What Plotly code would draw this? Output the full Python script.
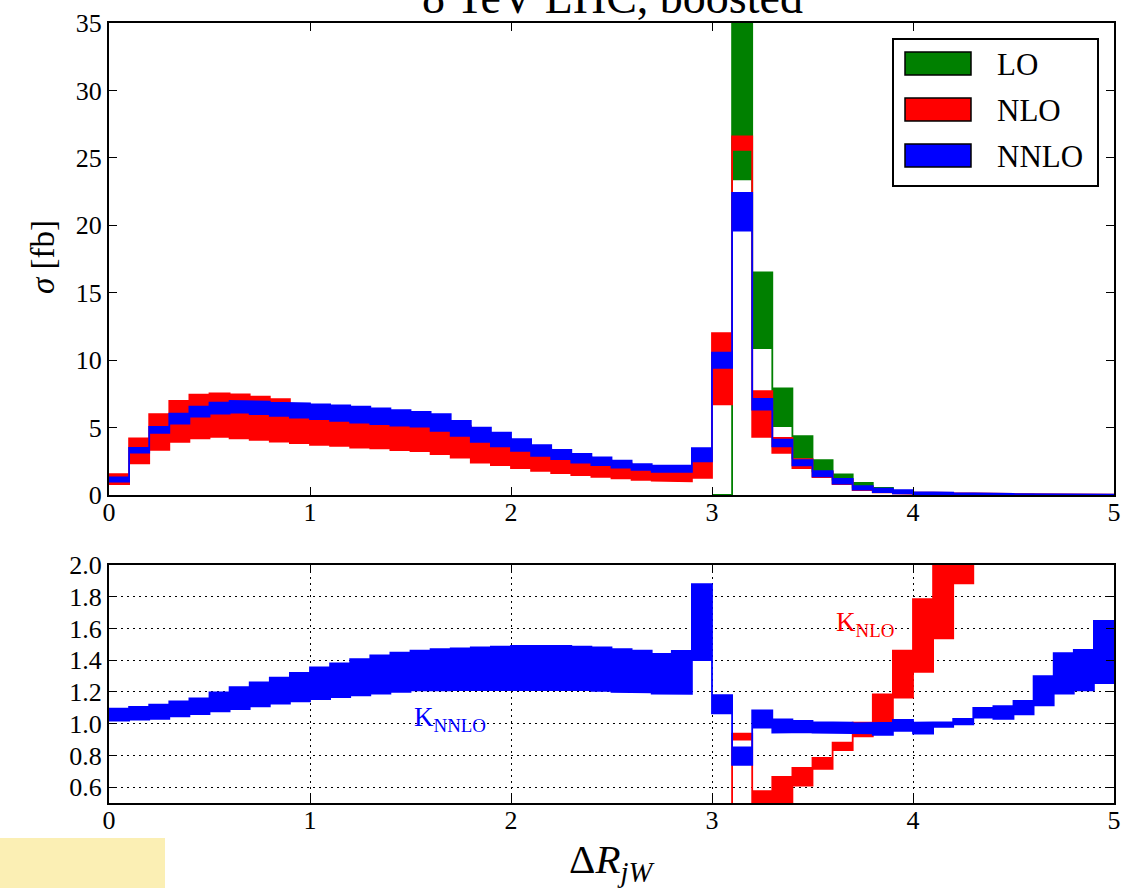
import plotly.graph_objects as go

# ---------------- data ----------------
bin_edges = [0.0, 0.1, 0.2, 0.3, 0.4, 0.5, 0.6, 0.7, 0.8, 0.9,
             1.0, 1.1, 1.2, 1.3, 1.4, 1.5, 1.6, 1.7, 1.8, 1.9,
             2.0, 2.1, 2.2, 2.3, 2.4, 2.5, 2.6, 2.7, 2.8, 2.9,
             3.0, 3.1, 3.2, 3.3, 3.4, 3.5, 3.6, 3.7, 3.8, 3.9,
             4.0, 4.1, 4.2, 4.3, 4.4, 4.5, 4.6, 4.7, 4.8, 4.9, 5.0]

# LO band (no LO contribution below Delta R = 3.1; None = not drawn)
lo_low = [None]*30 + [0, 23.4, 10.9, 5.1, 2.76, 1.76, 1.15, 0.55, 0.32, 0.16, 0.06,
                      0.04, 0.03, 0.02, 0.015, 0.01, 0.01, 0.008, 0.006, 0.005]
lo_high = [None]*30 + [0, 37.0, 16.5, 7.9, 4.36, 2.58, 1.52, 0.9, 0.53, 0.3, 0.14,
                       0.08, 0.06, 0.04, 0.03, 0.025, 0.02, 0.015, 0.012, 0.01]

# NLO band
nlo_low = [0.8, 2.34, 3.35, 3.94, 4.21, 4.31, 4.21, 4.09, 3.96, 3.84,
           3.72, 3.65, 3.52, 3.45, 3.33, 3.25, 3.03, 2.78, 2.41, 2.22,
           2.0, 1.8, 1.63, 1.48, 1.35, 1.23, 1.13, 1.06, 1.01, 1.28,
           6.72, 25.6, 4.31, 3.13, 2.0, 1.33, 0.8, 0.36, 0.2, 0.12,
           0.07, 0.05, 0.04, 0.03, 0.025, 0.02, 0.015, 0.012, 0.01, 0.008]
nlo_high = [1.55, 4.19, 5.99, 6.97, 7.44, 7.54, 7.46, 7.29, 7.1, 6.7,
            6.5, 6.35, 6.2, 6.05, 5.9, 5.75, 5.5, 5.1, 4.6, 4.2,
            3.8, 3.4, 3.05, 2.8, 2.55, 2.35, 2.15, 2.0, 2.0, 2.9,
            12.0, 26.6, 7.7, 4.24, 2.65, 1.7, 1.12, 0.6, 0.42, 0.3,
            0.2, 0.16, 0.13, 0.1, 0.08, 0.07, 0.06, 0.05, 0.04, 0.035]

# NNLO band
nnlo_low = [1.0, 3.15, 4.6, 5.3, 5.82, 6.04, 6.11, 5.99, 5.87, 5.74,
            5.62, 5.49, 5.37, 5.25, 5.15, 5.08, 4.75, 4.38, 3.94, 3.6,
            3.28, 2.91, 2.66, 2.41, 2.22, 2.04, 1.87, 1.72, 1.72, 2.49,
            9.43, 19.6, 6.34, 3.6, 2.19, 1.39, 0.85, 0.4, 0.22, 0.12,
            0.06, 0.05, 0.04, 0.035, 0.03, 0.025, 0.02, 0.015, 0.01, 0.01]
nnlo_high = [1.3, 3.5, 5.05, 6.04, 6.55, 6.85, 6.97, 6.92, 6.85, 6.8,
             6.72, 6.65, 6.55, 6.42, 6.3, 6.16, 5.99, 5.49, 5.0, 4.63,
             4.14, 3.69, 3.35, 3.05, 2.78, 2.54, 2.29, 2.17, 2.17, 3.47,
             10.55, 22.4, 7.13, 4.1, 2.58, 1.76, 1.2, 0.65, 0.48, 0.36,
             0.21, 0.17, 0.13, 0.1, 0.08, 0.07, 0.06, 0.05, 0.04, 0.035]

# K factors
k_nlo_low = [None]*30 + [0, 0.90, 0.40, 0.45, 0.61, 0.716, 0.834, 0.92, 1.01, 1.164, 1.326,
                         1.537, 1.884, 2.2, 2.3, 2.4, 2.5, 2.6, 2.7, 2.8]
k_nlo_high = [None]*30 + [0, 0.937, 0.575, 0.665, 0.722, 0.785, 0.88, 1.006, 1.185, 1.46, 1.785,
                          2.1, 2.3, 2.6, 2.7, 2.8, 2.9, 3.0, 3.1, 3.2]

k_nnlo_low = [1.02, 1.025, 1.03, 1.046, 1.06, 1.077, 1.092, 1.109, 1.126, 1.14,
              1.155, 1.167, 1.178, 1.19, 1.2, 1.21, 1.21, 1.212, 1.213, 1.214,
              1.215, 1.215, 1.214, 1.212, 1.207, 1.2, 1.197, 1.19, 1.188, 1.40,
              1.065, 0.74, 0.975, 0.943, 0.947, 0.943, 0.943, 0.939, 0.93, 0.954,
              0.937, 0.98, 0.996, 1.038, 1.03, 1.059, 1.116, 1.19, 1.21, 1.255]
k_nnlo_high = [1.095, 1.105, 1.12, 1.14, 1.16, 1.197, 1.23, 1.26, 1.29, 1.32,
               1.354, 1.38, 1.406, 1.43, 1.448, 1.46, 1.47, 1.475, 1.48, 1.485,
               1.49, 1.49, 1.49, 1.485, 1.48, 1.47, 1.46, 1.44, 1.458, 1.88,
               1.18, 0.85, 1.084, 1.027, 1.017, 1.01, 1.006, 1.002, 1.006, 1.023,
               1.006, 1.01, 1.03, 1.10, 1.11, 1.143, 1.30, 1.444, 1.465, 1.648]

x_ticks = [0, 1, 2, 3, 4, 5]
y_ticks_top = [0, 5, 10, 15, 20, 25, 30, 35]
y_ticks_bot = [0.6, 0.8, 1.0, 1.2, 1.4, 1.6, 1.8, 2.0]

GREEN, RED, BLUE = "#008000", "#FF0000", "#0000FF"
FONT = "Liberation Serif"


def step_band(edges, low, high):
    idx = [i for i in range(len(high)) if high[i] is not None]
    xs, ys = [], []
    for i in idx:
        xs += [edges[i], edges[i + 1]]
        ys += [high[i], high[i]]
    for i in reversed(idx):
        xs += [edges[i + 1], edges[i]]
        ys += [low[i], low[i]]
    xs.append(xs[0])
    ys.append(ys[0])
    return xs, ys


fig = go.Figure()


def add_band(low, high, color, xa, ya):
    xs, ys = step_band(bin_edges, low, high)
    fig.add_trace(go.Scatter(x=xs, y=ys, mode="lines", fill="toself",
                             fillcolor=color, line=dict(color=color, width=1.8),
                             xaxis=xa, yaxis=ya, showlegend=False,
                             hoverinfo="skip"))


add_band(lo_low, lo_high, GREEN, "x", "y")
add_band(nlo_low, nlo_high, RED, "x", "y")
add_band(nnlo_low, nnlo_high, BLUE, "x", "y")
add_band(k_nlo_low, k_nlo_high, RED, "x2", "y2")
add_band(k_nnlo_low, k_nnlo_high, BLUE, "x2", "y2")

W, H = 1121, 888
L, R, T, B = 109, 7, 23, 85
PW, PH = W - L - R, H - T - B


def px(xp):
    return (xp - L) / PW


def py(yp):
    return (H - B - yp) / PH


axis_common = dict(showline=True, linecolor="black", linewidth=2, mirror="ticks",
                   ticks="inside", ticklen=8, tickwidth=1, tickcolor="black",
                   tickfont=dict(family=FONT, size=26, color="black"),
                   zeroline=False, automargin=False)

fig.update_layout(
    template="none",
    width=W, height=H,
    margin=dict(l=L, r=R, t=T, b=B, autoexpand=False),
    paper_bgcolor="white", plot_bgcolor="white",
    showlegend=False,
    xaxis=dict(domain=[0, 1], range=[0, 5], anchor="y", tickvals=x_ticks,
               showgrid=False, ticklabelstandoff=-7, **axis_common),
    yaxis=dict(domain=[py(495), 1], range=[0, 35], anchor="x", tickvals=y_ticks_top,
               showgrid=False, **axis_common),
    xaxis2=dict(domain=[0, 1], range=[0, 5], anchor="y2", tickvals=x_ticks,
                showgrid=True, gridcolor="black", gridwidth=1, griddash="2px,4px",
                ticklabelstandoff=-7, **axis_common),
    yaxis2=dict(domain=[0, py(565)], range=[0.5, 2.0], anchor="x2", tickvals=y_ticks_bot,
                ticktext=["%.1f" % v for v in y_ticks_bot],
                showgrid=True, gridcolor="black", gridwidth=1, griddash="2px,4px",
                **axis_common),
)

shapes = []
# legend box
shapes.append(dict(type="rect", xref="paper", yref="paper",
                   x0=px(893), x1=px(1098), y0=py(186), y1=py(39),
                   line=dict(color="black", width=2), fillcolor="white"))
annotations = []
for name, color, yc in [("LO", GREEN, 63.5), ("NLO", RED, 109.5), ("NNLO", BLUE, 155.5)]:
    shapes.append(dict(type="rect", xref="paper", yref="paper",
                       x0=px(905), x1=px(971), y0=py(yc + 11.5), y1=py(yc - 11.5),
                       line=dict(color="black", width=1.5), fillcolor=color))
    annotations.append(dict(text=name, xref="paper", yref="paper", x=px(995), y=py(yc + 1),
                            xanchor="left", yanchor="middle", showarrow=False,
                            font=dict(family=FONT, size=31, color="black")))
# yellow patch bottom-left
shapes.append(dict(type="rect", xref="paper", yref="paper",
                   x0=px(0), x1=px(165), y0=py(888), y1=py(838),
                   line=dict(width=0), fillcolor="#FBEFB4"))

# title (cropped at top of image)
annotations.append(dict(text="8 TeV LHC, boosted", xref="paper", yref="paper",
                        x=px(612), y=py(25), xanchor="center", yanchor="bottom",
                        showarrow=False, font=dict(family=FONT, size=46, color="black")))
# axis labels
annotations.append(dict(text="<i>σ</i> [fb]", xref="paper", yref="paper",
                        x=px(43), y=py(257), xanchor="center", yanchor="middle",
                        textangle=-90, showarrow=False,
                        font=dict(family=FONT, size=33, color="black")))
annotations.append(dict(text="Δ<i>R</i><sub><i>jW</i></sub>", xref="paper", yref="paper",
                        x=px(612), y=py(862), xanchor="center", yanchor="middle",
                        showarrow=False, font=dict(family=FONT, size=41, color="black")))
# K labels
annotations.append(dict(text="K<sub>NLO</sub>", xref="paper", yref="paper",
                        x=px(865), y=py(624), xanchor="center", yanchor="middle",
                        showarrow=False, font=dict(family=FONT, size=27, color=RED)))
annotations.append(dict(text="K<sub>NNLO</sub>", xref="paper", yref="paper",
                        x=px(450), y=py(719), xanchor="center", yanchor="middle",
                        showarrow=False, font=dict(family=FONT, size=27, color=BLUE)))

fig.update_layout(shapes=shapes, annotations=annotations)

fig.write_html("out.html")
